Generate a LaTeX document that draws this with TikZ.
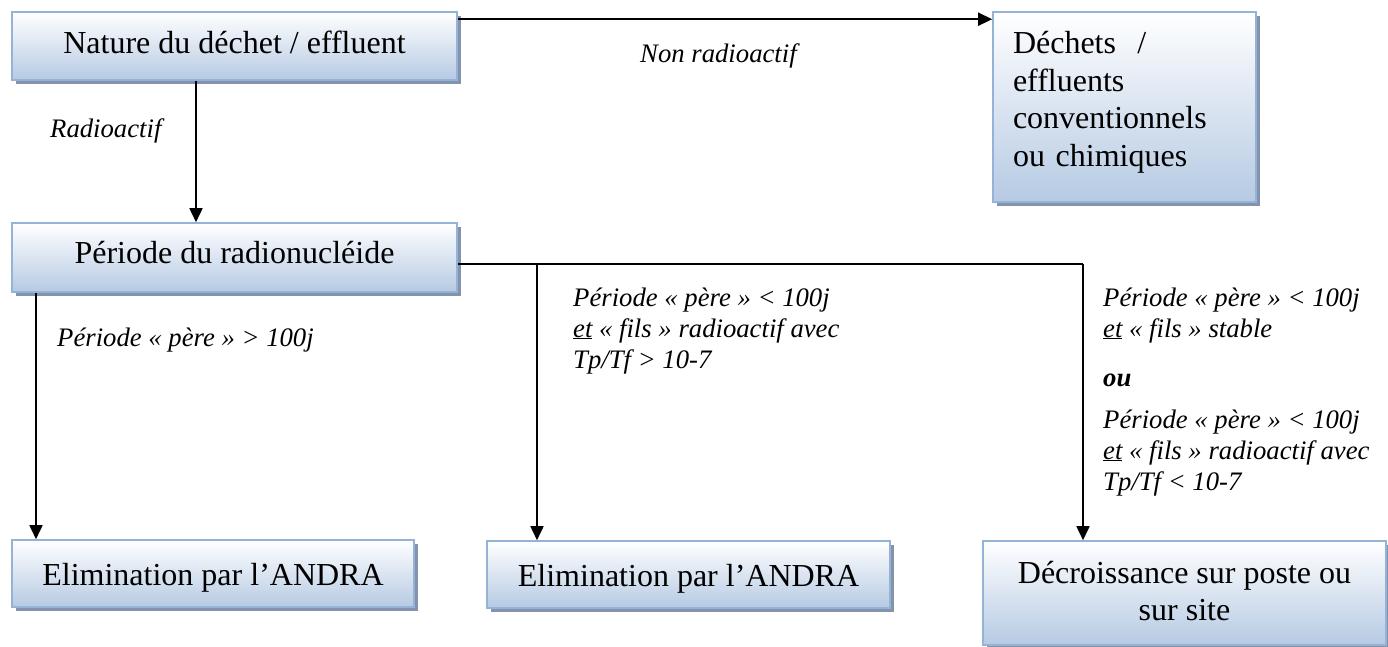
\documentclass[tikz,border=0pt]{standalone}
\usepackage{fontspec}
\setmainfont{Liberation Serif}
\usetikzlibrary{arrows.meta,shadows}
\definecolor{bordc}{HTML}{95B3D7}
\definecolor{botc}{HTML}{B6CAE3}
\definecolor{shadc}{HTML}{8393AD}
\tikzset{
  box/.style={draw=bordc, line width=1.6pt, top color=white, bottom color=botc,
    drop shadow={shadow xshift=4pt, shadow yshift=-4pt, fill=shadc, opacity=1},
    inner sep=0pt, font=\fontsize{32}{37.5}\selectfont, align=center},
  arr/.style={line width=1.7pt, -{Triangle[length=14pt,width=13pt]}},
  ln/.style={line width=1.7pt},
  lab/.style={font=\fontsize{26.7}{31}\selectfont\itshape, align=left, inner sep=0pt, anchor=base west},
}
\begin{document}
\begin{tikzpicture}[x=1pt,y=-1pt]
\useasboundingbox (0,0) rectangle (1388,647);
% boxes
\node[box, minimum width=445pt, minimum height=68pt, text height=21pt, text depth=6pt] (n1) at (234.5,46) {Nature du déchet / effluent};
\node[box, minimum width=263pt, minimum height=190pt, text width=223pt, align=left, text depth=129pt] (n2) at (1124.5,107) {Déchets~~/\\effluents\\conventionnels\\ou chimiques};
\node[box, minimum width=445pt, minimum height=69pt, text height=21pt, text depth=10pt] (n3) at (234.5,257.5) {Période du radionucléide};
\node[box, minimum width=402pt, minimum height=67pt, text height=23pt, text depth=0pt] (n4) at (213,573.5) {Elimination par l’ANDRA};
\node[box, minimum width=403pt, minimum height=67pt, text height=23pt, text depth=0pt] (n5) at (688.5,574.5) {Elimination par l’ANDRA};
\node[box, minimum width=403pt, minimum height=104pt, text depth=4pt] (n6) at (1184.5,593) {Décroissance sur poste ou\\sur site};
% junction coordinates
\coordinate (j1) at (537,264);
\coordinate (j2) at (1083,264);
\coordinate (c1) at (196,0);
\coordinate (c2) at (36,0);
% connectors
\draw[arr] ([yshift=-8pt]n1.north east) -- ([yshift=-8pt]n2.north west);
\draw[arr] (n1.south -| c1) -- (n3.north -| c1);
\draw[ln] (n3.east |- j1) -- (j2);
\draw[arr] (j1) -- (n5.north -| j1);
\draw[arr] (j2) -- (n6.north -| j2);
\draw[arr] (n3.south -| c2) -- (n4.north -| c2);
% labels (base = baseline of the last line)
\node[lab] (l1) at (640,63) {Non radioactif};
\node[lab] (l2) at (50,138) {Radioactif};
\node[lab] (l3) at (57,346) {Période «~père~» > 100j};
\node[lab] (l4) at (573,368) {Période «~père~» < 100j\\\underline{et} «~fils~» radioactif avec\\Tp/Tf > 10-7};
\node[lab] (l5) at (1103,490) {Période «~père~» < 100j\\\underline{et} «~fils~» stable\\[18pt]\textbf{ou}\\[11pt]Période «~père~» < 100j\\\underline{et} «~fils~» radioactif avec\\Tp/Tf < 10-7};
\end{tikzpicture}
\end{document}
